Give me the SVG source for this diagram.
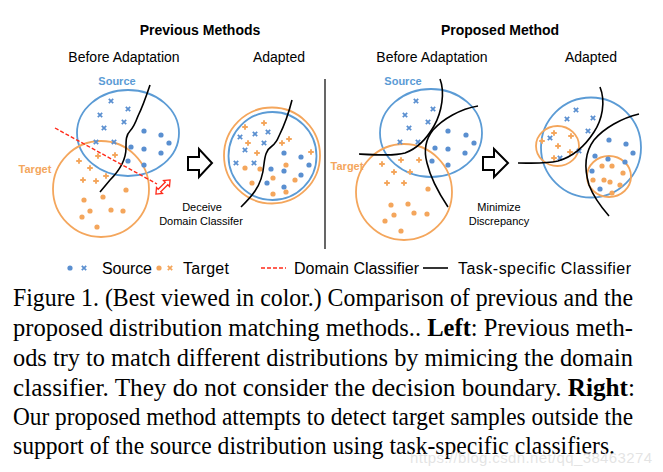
<svg xmlns="http://www.w3.org/2000/svg" xmlns:xlink="http://www.w3.org/1999/xlink" width="663" height="472" viewBox="0 0 663 472">
<style>
.t{font-family:"Liberation Sans",Arial,sans-serif;fill:#000}
.title{font-size:14px;font-weight:bold;text-anchor:middle}
.sub{font-size:14px;text-anchor:middle}
.lbl{font-size:11px;font-weight:bold;text-anchor:middle}
.note{font-size:11px;text-anchor:middle}
.leg{font-size:16px}
.cap{font-family:"Liberation Serif","Times New Roman",serif;font-size:24.5px;fill:#000}
.src{fill:none;stroke:#5b9bd5;stroke-width:1.8}
.tgt{fill:none;stroke:#f4a65c;stroke-width:1.8}
.clf{fill:none;stroke:#000;stroke-width:1.6}
.dom{fill:none;stroke:#ff2a1a;stroke-width:1.4;stroke-dasharray:4 2}
.blk{fill:#fff;stroke:#000;stroke-width:2}
</style>
<defs>
<circle id="bd" r="2.6" fill="#5a8fd0"/>
<circle id="od" r="2.6" fill="#f4a65c"/>
<path id="bx" d="M-2.2,-2.2L2.2,2.2M-2.2,2.2L2.2,-2.2" stroke="#5a8fd0" stroke-width="1.7" fill="none"/>
<path id="ox" d="M-2.2,-2.2L2.2,2.2M-2.2,2.2L2.2,-2.2" stroke="#f4a65c" stroke-width="1.7" fill="none"/>
<path id="op" d="M-2.8,0H2.8M0,-2.8V2.8" stroke="#f4a65c" stroke-width="1.9" fill="none"/>
</defs>

<g id="headings">
<text class="t title" x="200" y="35">Previous Methods</text>
<text class="t title" x="500" y="35">Proposed Method</text>
<text class="t sub" x="124" y="62">Before Adaptation</text>
<text class="t sub" x="279" y="62">Adapted</text>
<text class="t sub" x="432" y="62">Before Adaptation</text>
<text class="t sub" x="591" y="62">Adapted</text>
</g>

<line id="divider" x1="325" y1="79" x2="325" y2="249" stroke="#000" stroke-width="1.2"/>

<g id="prev-before">
<ellipse class="src" cx="128" cy="133" rx="51" ry="43"/>
<circle class="tgt" cx="101" cy="189" r="48"/>
<text class="t lbl" x="117" y="85" style="fill:#5b9bd5">Source</text>
<text class="t lbl" x="35" y="173" style="fill:#f4a65c">Target</text>
<use href="#bx" x="111" y="101"/><use href="#bx" x="128" y="109"/><use href="#bx" x="100" y="115"/><use href="#bx" x="124" y="122"/><use href="#bx" x="104" y="128"/><use href="#bx" x="96" y="142"/><use href="#bx" x="114" y="142"/>
<use href="#bd" x="144" y="131"/><use href="#bd" x="161" y="135"/><use href="#bd" x="169" y="143"/><use href="#bd" x="131" y="147"/><use href="#bd" x="144" y="149"/><use href="#bd" x="161" y="153"/><use href="#bd" x="128" y="161"/><use href="#bd" x="144" y="165"/>
<use href="#op" x="79" y="161"/><use href="#op" x="98" y="156"/><use href="#op" x="115" y="155"/><use href="#op" x="90" y="168"/><use href="#op" x="83" y="180"/><use href="#op" x="96" y="181"/><use href="#op" x="106" y="176"/>
<use href="#od" x="126" y="190"/><use href="#od" x="103" y="197"/><use href="#od" x="84" y="200"/><use href="#od" x="90" y="211"/><use href="#od" x="111" y="210"/><use href="#od" x="123" y="211"/><use href="#od" x="82" y="217"/><use href="#od" x="97" y="227"/>
</g>

<g id="prev-adapted">
<circle class="tgt" cx="272" cy="155.5" r="48"/>
<circle class="src" cx="272.5" cy="156" r="44"/>
<use href="#op" x="245" y="127"/><use href="#op" x="264" y="123"/><use href="#op" x="248" y="143"/><use href="#op" x="257" y="153"/><use href="#op" x="282" y="143"/><use href="#op" x="289" y="139"/><use href="#op" x="311" y="152"/>
<use href="#bx" x="240" y="137"/><use href="#bx" x="255" y="134"/><use href="#bx" x="268" y="132"/><use href="#bx" x="264" y="143"/><use href="#bx" x="245" y="150"/><use href="#bx" x="236" y="163"/><use href="#bx" x="254" y="163"/>
<use href="#bd" x="284" y="153"/><use href="#bd" x="301" y="157"/><use href="#bd" x="309" y="165"/><use href="#bd" x="271" y="169"/><use href="#bd" x="284" y="171"/><use href="#bd" x="301" y="175"/><use href="#bd" x="267" y="183"/><use href="#bd" x="284" y="187"/>
<use href="#od" x="245" y="168"/><use href="#od" x="260" y="169"/><use href="#od" x="286" y="165"/><use href="#od" x="273" y="178"/><use href="#od" x="295" y="180"/><use href="#od" x="252" y="183"/><use href="#od" x="273" y="194"/><use href="#od" x="286" y="192"/>
</g>

<g id="prop-before">
<ellipse class="src" cx="431" cy="133" rx="51" ry="44"/>
<circle class="tgt" cx="404" cy="192" r="48"/>
<text class="t lbl" x="403" y="85" style="fill:#5b9bd5">Source</text>
<text class="t lbl" x="347" y="170" style="fill:#f4a65c">Target</text>
<use href="#bx" x="416" y="101"/><use href="#bx" x="433" y="109"/><use href="#bx" x="405" y="115"/><use href="#bx" x="428" y="122"/><use href="#bx" x="409" y="128"/><use href="#bx" x="400" y="142"/><use href="#bx" x="418" y="142"/>
<use href="#bd" x="448" y="131"/><use href="#bd" x="466" y="135"/><use href="#bd" x="474" y="143"/><use href="#bd" x="435" y="148"/><use href="#bd" x="448" y="149"/><use href="#bd" x="465" y="153"/><use href="#bd" x="432" y="161"/><use href="#bd" x="448" y="165"/>
<use href="#op" x="382" y="164"/><use href="#op" x="401" y="160"/><use href="#op" x="419" y="160"/><use href="#op" x="394" y="172"/><use href="#op" x="410" y="172"/><use href="#op" x="387" y="183"/><use href="#op" x="404" y="183"/>
<use href="#od" x="428" y="189"/><use href="#od" x="391" y="205"/><use href="#od" x="408" y="204"/><use href="#od" x="394" y="215"/><use href="#od" x="414" y="213"/><use href="#od" x="427" y="214"/><use href="#od" x="385" y="221"/><use href="#od" x="401" y="231"/>
</g>

<g id="prop-adapted">
<circle class="src" cx="591" cy="147.5" r="50"/>
<ellipse class="tgt" cx="557.5" cy="146" rx="21.5" ry="20"/>
<ellipse class="tgt" cx="609" cy="176.5" rx="22" ry="20.5"/>
<use href="#bx" x="576" y="110"/><use href="#bx" x="567" y="119"/><use href="#bx" x="593" y="118"/><use href="#bx" x="588" y="131"/><use href="#bx" x="550" y="138"/><use href="#bx" x="579" y="151"/><use href="#bx" x="560" y="158"/>
<use href="#op" x="542" y="141"/><use href="#op" x="554" y="133"/><use href="#op" x="571" y="136"/><use href="#op" x="558" y="146"/><use href="#op" x="570" y="152"/><use href="#op" x="554" y="158"/>
<use href="#bd" x="609" y="140"/><use href="#bd" x="626" y="144"/><use href="#bd" x="633" y="153"/><use href="#bd" x="595" y="156"/><use href="#bd" x="608" y="159"/><use href="#bd" x="625" y="162"/><use href="#bd" x="592" y="171"/><use href="#bd" x="600" y="189"/>
<use href="#od" x="602" y="166"/><use href="#od" x="612" y="166"/><use href="#od" x="623" y="173"/><use href="#od" x="593" y="180"/><use href="#od" x="604" y="180"/><use href="#od" x="610" y="182"/><use href="#od" x="620" y="185"/><use href="#od" x="612" y="193"/>
</g>

<g id="connectors">
<path class="clf" d="M150,85 C146,97 142,108 138,116 C135,124 134,127 130,131 C126,135 126,140 126,148 C126,160 118,172 110,180 L100,192"/>
<line class="dom" x1="55" y1="128" x2="157" y2="184"/>
<polygon points="-10,0 -5,-4.2 -5,-1.8 5,-1.8 5,-4.2 10,0 5,4.2 5,1.8 -5,1.8 -5,4.2" transform="translate(163,187) rotate(-45)" fill="#fff" stroke="#ff2a1a" stroke-width="1.3"/>
<polygon class="blk" points="188,157 199,157 199,149 212,163 199,177 199,170 188,170"/>
<path class="clf" d="M292,100 C289,112 283,128 279,136 C277,141 276,143 272,146 C266,150 265,156 264,164 C263,175 260,184 255,191 C251,197 246,202 241,207"/>
<path class="clf" d="M440,79 C445,92 442,112 434,126 C426,140 416,149 405,153 C395,156 378,155 359,154"/>
<path class="clf" d="M478,106 C460,109 443,119 433,130 C425,140 424,152 427,163 C431,180 440,195 448,207"/>
<polygon class="blk" points="483,157 494,157 494,149 508,163 494,177 494,170 483,170"/>
<path class="clf" d="M600,87 C606,102 602,120 594,132 C585,146 572,157 558,161 C545,164 532,163 518,163"/>
<path class="clf" d="M639,114 C622,118 604,128 594,140 C585,152 584,168 589,185 C594,198 602,208 609,216"/>
</g>

<g id="notes">
<text class="t note" x="202" y="211">Deceive</text>
<text class="t note" x="201" y="225">Domain Classifer</text>
<text class="t note" x="499" y="211">Minimize</text>
<text class="t note" x="499" y="225">Discrepancy</text>
</g>

<g id="legend">
<use href="#bd" x="70" y="268"/><use href="#bx" x="84" y="268"/>
<text class="t leg" x="102" y="274" textLength="50">Source</text>
<use href="#od" x="159" y="268"/><use href="#ox" x="170" y="268"/>
<text class="t leg" x="183" y="274" textLength="46">Target</text>
<line class="dom" x1="261" y1="268" x2="286" y2="268"/>
<text class="t leg" x="294" y="274" textLength="125">Domain Classifier</text>
<line x1="423" y1="268" x2="448" y2="268" stroke="#000" stroke-width="1.6"/>
<text class="t leg" x="458" y="274" textLength="173">Task-specific Classifier</text>
</g>

<g id="caption">
<text class="cap" x="13" y="306" textLength="620" lengthAdjust="spacingAndGlyphs">Figure 1. (Best viewed in color.) Comparison of previous and the</text>
<text class="cap" x="13" y="336" textLength="620" lengthAdjust="spacingAndGlyphs">proposed distribution matching methods..  <tspan font-weight="bold">Left</tspan>:  Previous meth-</text>
<text class="cap" x="13" y="366" textLength="620" lengthAdjust="spacingAndGlyphs">ods try to match different distributions by mimicing the domain</text>
<text class="cap" x="13" y="396" textLength="622" lengthAdjust="spacingAndGlyphs">classifier.  They do not consider the decision boundary.  <tspan font-weight="bold">Right</tspan>:</text>
<text class="cap" x="13" y="425" textLength="620" lengthAdjust="spacingAndGlyphs">Our proposed method attempts to detect target samples outside the</text>
<text class="cap" x="13" y="454" textLength="602" lengthAdjust="spacingAndGlyphs">support of the source distribution using task-specific classifiers.</text>
<text x="410" y="463" textLength="242" style="font-family:'Liberation Sans',Arial,sans-serif;font-size:15px;fill:#d8d8d8;fill-opacity:0.7">https://blog.csdn.net/qq_38463274</text>
</g>
</svg>
